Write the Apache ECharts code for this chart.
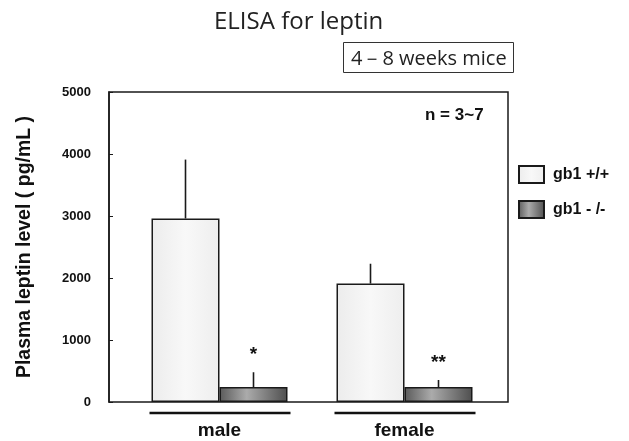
<!DOCTYPE html>
<html>
<head>
<meta charset="utf-8">
<script src="https://cdn.jsdelivr.net/npm/echarts@6/dist/echarts.min.js"></script>
<style>html,body{margin:0;padding:0;background:#fff}#c{width:629px;height:441px}</style>
</head>
<body>
<div id="c"></div>
<script>
var categories = ['male', 'female'];
var seriesNames = ['gb1 +/+', 'gb1 - /-'];
var wildMeans = [2960, 1910];
var wildErrTop = [3910, 2230];
var koMeans = [240, 240];
var koErrTop = [480, 355];
var koMarks = ['*', '**'];
var yTicks = [0, 1000, 2000, 3000, 4000, 5000];

var chart = echarts.init(document.getElementById('c'), null, {renderer: 'canvas'});
var BAR_W = 68;
var boldFont = 'Liberation Sans';

function errSeries(name, means, tops, marks, side) {
  var data = means.map(function (m, i) { return [i, m, tops[i], marks ? marks[i] : '']; });
  return {
    type: 'custom', xAxisIndex: 1, yAxisIndex: 1, clip: false, silent: true, z: 5,
    name: name + '_err',
    data: data,
    renderItem: function (params, api) {
      var base = api.coord([api.value(0), api.value(1)]);
      var top = api.coord([api.value(0), api.value(2)]);
      var x = base[0] + side * BAR_W / 2;
      var children = [{
        type: 'line',
        shape: {x1: x, y1: base[1], x2: x, y2: top[1]},
        style: {stroke: '#1a1a1a', lineWidth: 1.6}
      }];
      var mark = data[params.dataIndex][3];
      if (mark) {
        children.push({
          type: 'text',
          style: {text: mark, x: x, y: top[1] - 8, textAlign: 'center', textVerticalAlign: 'bottom',
                  font: 'bold 19px ' + boldFont, fill: '#111'}
        });
      }
      return {type: 'group', children: children};
    }
  };
}

var option = {
  animation: false,
  title: [
    {text: 'ELISA for leptin', left: 209, top: 5,
     textStyle: {fontFamily: 'Open Sans', fontWeight: 'normal', fontSize: 24, color: '#222'}},
    {text: '4－8 weeks mice', left: 343, top: 42, padding: [7, 7, 4, 8],
     borderColor: '#333', borderWidth: 1,
     textStyle: {fontFamily: 'Open Sans', fontWeight: 'normal', fontSize: 20, color: '#222'}},
    {text: 'n = 3~7', left: 420, top: 102,
     textStyle: {fontFamily: boldFont, fontWeight: 'bold', fontSize: 17, color: '#111'}}
  ],
  legend: {
    orient: 'vertical', left: 518, top: 165, itemWidth: 25, itemHeight: 17, itemGap: 16, padding: 0,
    icon: 'rect',
    data: seriesNames,
    textStyle: {fontFamily: boldFont, fontWeight: 'bold', fontSize: 16, color: '#111', padding: [0, 0, 0, 4]}
  },
  grid: [
    {left: 109, top: 92, width: 399, height: 310, show: true, borderColor: '#1a1a1a', borderWidth: 1.5, backgroundColor: 'transparent'},
    {left: 127, top: 92, width: 370, height: 310}
  ],
  xAxis: [
    {gridIndex: 0, type: 'value', show: false, min: 0, max: 1},
    {gridIndex: 1, type: 'category', data: categories,
     axisLine: {show: false}, axisTick: {show: false},
     axisLabel: {margin: 19, fontFamily: boldFont, fontWeight: 'bold', fontSize: 19, color: '#111'}}
  ],
  yAxis: [
    {gridIndex: 0, type: 'value', min: yTicks[0], max: yTicks[yTicks.length - 1], interval: 1000,
     name: 'Plasma leptin level ( pg/mL )', nameLocation: 'middle', nameGap: 74, nameRotate: 90,
     nameTextStyle: {fontFamily: boldFont, fontWeight: 'bold', fontSize: 19.5, color: '#111'},
     axisLine: {show: true, lineStyle: {color: '#1a1a1a', width: 1.5}},
     axisTick: {show: true, inside: true, length: 4, lineStyle: {color: '#1a1a1a'}},
     splitLine: {show: false},
     axisLabel: {margin: 18, fontFamily: boldFont, fontWeight: 'bold', fontSize: 13, color: '#111',
                 formatter: function (v) { return String(v); }}},
    {gridIndex: 1, type: 'value', min: yTicks[0], max: yTicks[yTicks.length - 1], show: false, splitLine: {show: false}}
  ],
  series: [
    {name: seriesNames[0], type: 'bar', xAxisIndex: 1, yAxisIndex: 1, data: wildMeans,
     barWidth: BAR_W, barGap: '0%', z: 3,
     itemStyle: {borderColor: '#1a1a1a', borderWidth: 1.5,
       color: new echarts.graphic.LinearGradient(0, 0, 1, 0, [
         {offset: 0, color: '#ececec'}, {offset: 0.5, color: '#f8f8f8'}, {offset: 1, color: '#eeeeee'}])}},
    {name: seriesNames[1], type: 'bar', xAxisIndex: 1, yAxisIndex: 1, data: koMeans,
     barWidth: BAR_W, barGap: '0%', z: 3,
     itemStyle: {borderColor: '#1a1a1a', borderWidth: 1.5,
       color: new echarts.graphic.LinearGradient(0, 0, 1, 0, [
         {offset: 0, color: '#5a5a5a'}, {offset: 0.4, color: '#ababab'}, {offset: 1, color: '#4e4e4e'}])}},
    errSeries('wild', wildMeans, wildErrTop, null, -1),
    errSeries('ko', koMeans, koErrTop, koMarks, 1),
    {
      type: 'custom', xAxisIndex: 1, yAxisIndex: 1, clip: false, silent: true, name: 'underline',
      data: categories.map(function (c, i) { return [i, 0]; }),
      renderItem: function (params, api) {
        var p = api.coord([api.value(0), api.value(1)]);
        return {type: 'line', shape: {x1: p[0] - BAR_W - 2, y1: p[1] + 11, x2: p[0] + BAR_W + 3, y2: p[1] + 11},
                style: {stroke: '#111', lineWidth: 2.6}};
      }
    }
  ]
};
chart.setOption(option);
</script>
</body>
</html>
